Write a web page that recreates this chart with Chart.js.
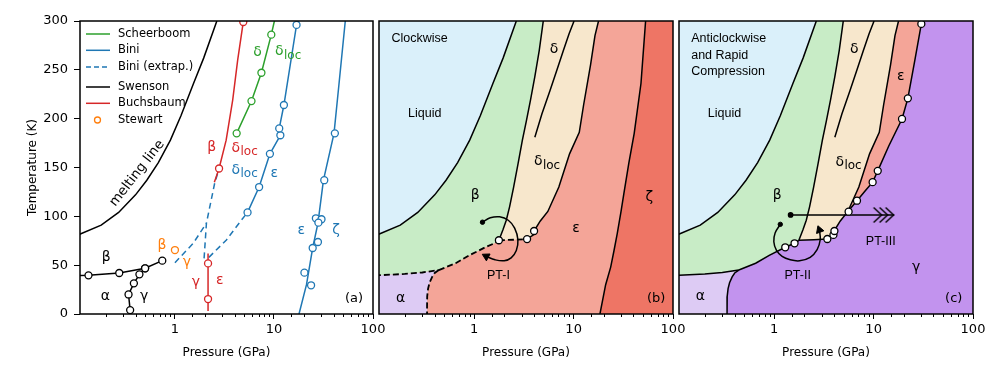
<!DOCTYPE html>
<html>
<head>
<meta charset="utf-8">
<script src="https://cdn.jsdelivr.net/npm/chart.js@4.4.1/dist/chart.umd.min.js"></script>
<style>
  html, body { margin: 0; padding: 0; background: #fff; }
  #wrap { position: relative; width: 1000px; height: 373px; overflow: hidden; }
  canvas { position: absolute; top: 0; }
</style>
</head>
<body>
<div id="wrap">
  <canvas id="pa" width="390" height="373" style="left:0px;width:390px;height:373px"></canvas>
  <canvas id="pb" width="350" height="373" style="left:340px;width:350px;height:373px"></canvas>
  <canvas id="pc" width="360" height="373" style="left:640px;width:360px;height:373px"></canvas>
</div>
<script>
// P in GPa, T in K

// --- panel (a): measured curves ---
const meltP = [0.1, 0.18, 0.27, 0.4, 0.52, 0.68, 0.9, 1.15, 1.54, 1.95, 2.65];
const meltT = [80, 91, 104, 122, 137, 155, 178, 203, 236, 262, 300];

const swABP = [0.1, 0.134, 0.274, 0.5, 0.745];
const swABT = [39.3, 39.6, 42, 46.8, 54.6];
const swAGP = [0.353, 0.34, 0.385, 0.438, 0.5];
const swAGT = [4, 20, 31.4, 40.6, 46.8];

const bbLowP = [2.16, 2.16, 2.16, 2.16];
const bbLowT = [3, 15.3, 51.8, 62];
const bbHighP = [2.5, 2.79, 3.29, 3.83, 4.3, 4.9];
const bbHighT = [135, 149, 178, 219, 260, 299];

const schP = [4.2, 5.93, 7.47, 9.4, 10.1];
const schT = [185, 218, 247, 286, 300];

const biniLocP = [5.41, 7.08, 9.1, 11.6, 11.3, 12.6, 16.9, 17.8];
const biniLocT = [104, 130, 164, 183, 190, 214, 296, 300];
const biniZetaP = [17.9, 21.3, 24.6, 27.8, 31.6, 40.4, 45.3, 52.5];
const biniZetaT = [0, 30, 67.6, 93, 137, 185, 235, 300];
const biniZetaPtsP = [20.3, 23.7, 24.6, 27.8, 26.5, 30.2, 28.1, 32.2, 41.2];
const biniZetaPtsT = [42.3, 29.4, 67.6, 73.7, 98, 97, 93.5, 137, 185];

const extAP = [1.0, 1.53, 2.08];
const extAT = [52.5, 72.4, 93];
const extBP = [1.97, 2.08, 2.52, 2.79];
const extBT = [57, 93, 134, 149];
const extCP = [2.2, 3.31, 4.68, 5.41];
const extCT = [58, 75.8, 96, 104];

const stewP = [1.0];
const stewT = [65.5];

// --- panels (b), (c): phase boundaries ---
const alphaBetaP = [0.1, 0.2, 0.3, 0.44];
const alphaBetaT = [39.5, 41, 42.5, 45];
const alphaLowP = [0.44, 0.4, 0.377, 0.355, 0.343, 0.336, 0.335, 0.335];
const alphaLowT = [45, 42, 38, 32, 26, 18, 8, 0];
const betaLowP = [0.44, 0.65, 0.89, 1.29, 1.6, 1.77];
const betaLowT = [45, 52, 60, 68.3, 72.4, 75.5];
const betaDeltaP = [1.77, 1.94, 2.1, 2.27, 2.49, 2.76, 3.05, 3.35, 3.68, 4.07, 4.51, 4.95];
const betaDeltaT = [75.5, 86, 96, 110, 130, 154, 178, 198, 219, 243, 270, 300];
const deltaLocP = [4.07, 4.8, 5.8, 6.8, 7.9, 9.0, 10.1];
const deltaLocT = [181, 205, 229, 250, 270, 287, 300];
const locBottomP = [1.77, 2.5, 3.4, 3.94, 4.0];
const locBottomT = [75.5, 76, 76.7, 81, 85];
const locEpsP = [4.0, 4.6, 5.5, 7.1, 9.1, 11.4, 12.6, 14.8, 16.4, 17.8];
const locEpsT = [85, 95, 105, 130, 164, 186, 214, 255, 285, 300];
const epsZetaP = [18.4, 21, 23.6, 25.5, 27.5, 30, 32, 36, 40.7, 47.6, 53];
const epsZetaT = [0, 30, 48, 65, 82.5, 105, 123, 155, 185, 236, 300];
const epsGammaP = [5.5, 6.8, 8.2, 9.77, 11, 14.2, 19.3, 22.1, 26, 30.2, 30.5];
const epsGammaT = [105, 116, 126, 135, 146.6, 172, 199.7, 220.8, 260, 297, 300];

const markBP = [1.77, 3.4, 4.0];
const markBT = [75.5, 76.7, 85];
const markCP = [1.29, 1.6, 3.42, 3.94, 4.03, 5.6, 6.8, 9.77, 11, 19.3, 22.1, 30.2];
const markCT = [68.3, 72.4, 76.8, 81, 85, 104.8, 116, 135, 146.6, 199.7, 220.8, 297];

// pressure-temperature paths
const pt1P = [1.21, 1.45, 1.8, 2.2, 2.55, 2.75, 2.65, 2.35, 2.0, 1.62, 1.32];
const pt1T = [94, 98.5, 99.5, 96, 88, 76, 65, 57.5, 54.5, 55.5, 59];
const pt2P = [1.15, 1.02, 0.99, 1.05, 1.2, 1.45, 1.8, 2.3, 2.7, 2.9, 2.85];
const pt2T = [91.8, 83, 74, 65.5, 59, 55.5, 54.5, 58, 66, 76, 86];
const pt3P = [1.46, 16.1];
const pt3T = [101.4, 101.4];
const pt3HeadP = [12.6];

const xTicks = [1, 10, 100];
const yTicks = [0, 50, 100, 150, 200, 250, 300];

// text labels: [text, P, T, colour, font, align, rotation]
const notesA = [
  ['melting line', 0.415, 144, 'k', 'm', 'center', -52],
  ['β', 0.202, 58.4, 'k', 'g'], ['α', 0.198, 18.4, 'k', 'g'], ['γ', 0.488, 18.4, 'k', 'g'],
  ['β', 0.74, 70.7, 'o', 'g'], ['γ', 1.32, 53.2, 'o', 'g'],
  ['γ', 1.63, 32.8, 'r', 'g'], ['ε', 2.83, 34.8, 'r', 'g'],
  ['β', 2.35, 171, 'r', 'g'], ['δ_loc', 5.02, 170, 'r', 'g'],
  ['δ_loc', 5.02, 147.5, 'b', 'g'], ['ε', 10.1, 144.4, 'b', 'g'],
  ['δ', 6.83, 268, 'g', 'g'], ['δ_loc', 13.8, 268.6, 'g', 'g'],
  ['ε', 18.9, 86, 'b', 'g'], ['ζ', 42.4, 86, 'b', 'g'],
  ['(a)', 64.4, 15.4, 'k', 't']
];
const notesB = [
  ['Clockwise', 0.147, 281.6, 'k', 's', 'left'], ['Liquid', 0.317, 204.8, 'k', 's'],
  ['β', 1.02, 121.9, 'k', 'g'], ['δ', 6.36, 271.4, 'k', 'g'], ['δ_loc', 5.37, 156, 'k', 'g'],
  ['ε', 10.6, 88, 'k', 'g'], ['ζ', 57.6, 119.8, 'k', 'g'], ['PT-I', 1.75, 38.9, 'k', 's'],
  ['α', 0.181, 16.4, 'k', 'g'], ['(b)', 67.7, 15.4, 'k', 't']
];
const notesC = [
  ['Anticlockwise', 0.146, 281.6, 'k', 's', 'left'], ['and Rapid', 0.146, 264.2, 'k', 's', 'left'],
  ['Compression', 0.146, 247.8, 'k', 's', 'left'], ['Liquid', 0.316, 204.8, 'k', 's'],
  ['β', 1.07, 121.9, 'k', 'g'], ['δ', 6.4, 271.4, 'k', 'g'], ['ε', 18.8, 243.7, 'k', 'g'],
  ['δ_loc', 5.56, 155.3, 'k', 'g'], ['PT-III', 11.8, 73.7, 'k', 's'], ['γ', 26.8, 48.1, 'k', 'g'],
  ['PT-II', 1.72, 38.9, 'k', 's'], ['α', 0.18, 18.4, 'k', 'g'], ['(c)', 64, 15.4, 'k', 't']
];

const legendA = [
  ['Scheerboom', 'g', 'line'], ['Bini', 'b', 'line'], ['Bini (extrap.)', 'b', 'dash'],
  ['Swenson', 'k', 'line'], ['Buchsbaum', 'r', 'line'], ['Stewart', 'o', 'dot']
];

// --- styling ---
const COL = { k: '#000000', g: '#2ca02c', b: '#1f77b4', r: '#d62728', o: '#ff7f0e' };
const FILL = {
  liquid: '#daf0fa', beta: '#c8ecc6', delta: '#f7e7cc', eps: '#f4a598',
  zeta: '#ee7565', alpha: '#ddcbf4', gamma: '#c293ee'
};
const FONT = {
  g: '14px "DejaVu Sans"', sub: '12px "DejaVu Sans"', t: '13px "DejaVu Sans"',
  m: '13.5px "DejaVu Sans"', s: '12.5px "Liberation Sans"'
};
const R = 3.5;

const xy = (P, T) => P.map((p, i) => ({ x: p, y: T[i] }));
const rev = a => a.slice().reverse();
const isDecade = v => v > 0 && Math.abs(Math.log10(v) - Math.round(Math.log10(v))) < 1e-9;

function area(points, color, order) {
  return { data: points, fill: 'shape', backgroundColor: color, borderColor: 'rgba(0,0,0,0)',
           borderWidth: 0, pointRadius: 0, tension: 0, order };
}
function curve(points, color, extra) {
  return Object.assign({ data: points, borderColor: color, borderWidth: 1.5, pointRadius: 0,
    fill: false, tension: 0, order: 5, pointBackgroundColor: '#fff', pointBorderColor: color,
    pointBorderWidth: 1.3 }, extra || {});
}
function dots(points, color, order) {
  return { data: points, showLine: false, pointRadius: R, pointBorderWidth: 1.3,
           pointBorderColor: color, pointBackgroundColor: '#fff', order: order || 1 };
}
function radii(n, skip) {
  return Array.from({ length: n }, (_, i) => (skip.includes(i) ? 0 : R));
}

// three open chevrons for the PT-III arrow head
function chevrons() {
  const c = document.createElement('canvas');
  c.width = 24; c.height = 18;
  const g = c.getContext('2d');
  g.strokeStyle = '#000'; g.lineWidth = 1.4;
  for (const dx of [2, 8, 14]) {
    g.beginPath(); g.moveTo(dx, 1.5); g.lineTo(dx + 8, 9); g.lineTo(dx, 16.5); g.stroke();
  }
  return c;
}

// --- plugins ---
const framePlugin = {
  id: 'frame',
  afterDraw(chart) {
    const { ctx, chartArea: a, scales: { x } } = chart;
    ctx.save();
    ctx.strokeStyle = '#000';
    ctx.lineWidth = 1;
    ctx.beginPath();
    for (const t of x.ticks) {
      if (isDecade(t.value) || t.value <= x.min) continue;
      const px = Math.round(x.getPixelForValue(t.value)) + 0.5;
      ctx.moveTo(px, a.bottom); ctx.lineTo(px, a.bottom + 3);
    }
    ctx.stroke();
    ctx.lineWidth = 1.5;
    ctx.strokeRect(a.left, a.top, a.right - a.left, a.bottom - a.top);
    ctx.restore();
  }
};

const notesPlugin = {
  id: 'notes',
  afterDatasetsDraw(chart, args, opts) {
    const { ctx, scales: { x, y } } = chart;
    ctx.save();
    ctx.textBaseline = 'middle';
    for (const [txt, p, t, c, f, align, rot] of opts.items) {
      ctx.save();
      ctx.translate(x.getPixelForValue(p), y.getPixelForValue(t));
      if (rot) ctx.rotate(rot * Math.PI / 180);
      ctx.fillStyle = COL[c];
      const [main, sub] = txt.split('_');
      if (sub) {
        ctx.font = FONT[f]; const w1 = ctx.measureText(main).width;
        ctx.font = FONT.sub; const w2 = ctx.measureText(sub).width;
        const x0 = -(w1 + w2) / 2;
        ctx.textAlign = 'left';
        ctx.font = FONT[f]; ctx.fillText(main, x0, 0);
        ctx.font = FONT.sub; ctx.fillText(sub, x0 + w1 + 0.5, 4);
      } else {
        ctx.font = FONT[f];
        ctx.textAlign = align || 'center';
        ctx.fillText(main, 0, 0);
      }
      ctx.restore();
    }
    ctx.restore();
  }
};

const keyPlugin = {
  id: 'key',
  afterDraw(chart, args, opts) {
    if (!opts.items) return;
    const { ctx, chartArea: a } = chart;
    const rows = [13, 29.3, 46, 66, 82.3, 99];
    ctx.save();
    ctx.font = '11.5px "DejaVu Sans"';
    ctx.textBaseline = 'middle';
    ctx.textAlign = 'left';
    opts.items.forEach(([label, c, kind], i) => {
      const yy = a.top + rows[i];
      ctx.strokeStyle = COL[c];
      ctx.lineWidth = 1.5;
      if (kind === 'dot') {
        ctx.fillStyle = '#fff';
        ctx.beginPath(); ctx.arc(a.left + 17.5, yy, R - 0.5, 0, Math.PI * 2);
        ctx.fill(); ctx.lineWidth = 1.3; ctx.stroke();
      } else {
        ctx.setLineDash(kind === 'dash' ? [5, 3] : []);
        ctx.beginPath(); ctx.moveTo(a.left + 6, yy); ctx.lineTo(a.left + 30, yy); ctx.stroke();
        ctx.setLineDash([]);
      }
      ctx.fillStyle = '#000';
      ctx.fillText(label, a.left + 38, yy);
    });
    ctx.restore();
  }
};

function makeChart(id, datasets, notes, padL, padR, showY, key) {
  const tickFont = { family: 'DejaVu Sans', size: 13 };
  const titleFont = { family: 'DejaVu Sans', size: 12 };
  return new Chart(document.getElementById(id), {
    type: 'line',
    data: { datasets },
    plugins: [framePlugin, notesPlugin, keyPlugin],
    options: {
      responsive: false, animation: false, events: [], devicePixelRatio: 1,
      layout: { padding: { left: padL, right: padR, top: 21, bottom: 0 } },
      plugins: { legend: { display: false }, tooltip: { enabled: false },
                 notes: { items: notes }, key: { items: key } },
      scales: {
        x: {
          type: 'logarithmic', min: 0.11, max: 100,
          border: { display: false },
          grid: { drawOnChartArea: false, tickLength: 5, tickWidth: 1,
                  tickColor: c => (c.tick && isDecade(c.tick.value) ? '#000' : 'rgba(0,0,0,0)') },
          ticks: { autoSkip: false, maxRotation: 0, padding: 3, color: '#000', font: tickFont,
                   callback: v => (xTicks.includes(v) ? String(v) : '') },
          title: { display: true, text: 'Pressure (GPa)', color: '#000', font: titleFont,
                   padding: { top: 0, bottom: 13 } },
          afterFit: s => { s.height = 59; }
        },
        y: {
          type: 'linear', min: 0, max: 300, display: showY,
          border: { display: false },
          afterBuildTicks: s => { s.ticks = yTicks.map(v => ({ value: v })); },
          grid: { drawOnChartArea: false, tickLength: 6, tickColor: '#000' },
          ticks: { padding: 6, color: '#000', font: tickFont },
          title: { display: true, text: 'Temperature (K)', color: '#000', font: titleFont,
                   padding: { top: 26, bottom: 0 } },
          afterFit: s => { s.width = showY ? 80 : 0; }
        }
      }
    }
  });
}

// --- shared region polygons ---
const meltPts = xy(meltP, meltT);
const alphaBetaPts = xy(alphaBetaP, alphaBetaT);
const alphaLowPts = xy(alphaLowP, alphaLowT);
const betaLowPts = xy(betaLowP, betaLowT);
const betaDeltaPts = xy(betaDeltaP, betaDeltaT);
const locBottomPts = xy(locBottomP, locBottomT);
const locEpsPts = xy(locEpsP, locEpsT);
const epsGammaPts = xy(epsGammaP, epsGammaT);
const topBD = betaDeltaPts[betaDeltaPts.length - 1].x;
const topLE = locEpsPts[locEpsPts.length - 1].x;

const liquidPoly = [{ x: 0.1, y: meltT[0] }, ...meltPts, { x: meltP[meltP.length - 1], y: 305 }, { x: 0.1, y: 305 }];
const betaPoly = [...alphaBetaPts, ...betaLowPts, ...betaDeltaPts, { x: topBD, y: 305 }, { x: 0.1, y: 305 }];
const deltaPoly = [...locBottomPts, ...locEpsPts, { x: topLE, y: 305 }, { x: topBD, y: 305 }, ...rev(betaDeltaPts)];
const alphaPoly = [{ x: 0.1, y: -5 }, ...alphaBetaPts, ...alphaLowPts, { x: alphaLowP[alphaLowP.length - 1], y: -5 }];
const boxPoly = [{ x: 0.1, y: -5 }, { x: 0.1, y: 305 }, { x: 120, y: 305 }, { x: 120, y: -5 }];
const zetaPoly = [{ x: epsZetaP[0], y: -5 }, ...xy(epsZetaP, epsZetaT),
                  { x: epsZetaP[epsZetaP.length - 1], y: 305 }, { x: 120, y: 305 }, { x: 120, y: -5 }];
const bandEdge = locEpsPts.filter(p => p.x >= epsGammaP[0]);
const epsBandPoly = [...bandEdge, { x: topLE, y: 305 }, { x: epsGammaP[epsGammaP.length - 1], y: 305 }, ...rev(epsGammaPts)];

// --- panel (a) ---
const dashA = { borderDash: [6, 4] };
makeChart('pa', [
  curve(meltPts, COL.k),
  curve(xy(swABP, swABT), COL.k, { pointRadius: radii(swABP.length, [0]) }),
  curve(xy(swAGP, swAGT), COL.k, { pointRadius: R }),
  curve(xy(bbLowP, bbLowT), COL.r, { pointRadius: radii(bbLowP.length, [0, 3]) }),
  curve(xy(bbHighP, bbHighT), COL.r, { pointRadius: radii(bbHighP.length, [0, 2, 3, 4]) }),
  curve(xy(schP, schT), COL.g, { pointRadius: radii(schP.length, [schP.length - 1]) }),
  curve(xy(biniLocP, biniLocT), COL.b, { pointRadius: radii(biniLocP.length, [biniLocP.length - 1]) }),
  curve(xy(biniZetaP, biniZetaT), COL.b),
  dots(xy(biniZetaPtsP, biniZetaPtsT), COL.b),
  curve(xy(extAP, extAT), COL.b, dashA),
  curve(xy(extBP, extBT), COL.b, dashA),
  curve(xy(extCP, extCT), COL.b, dashA),
  dots(xy(stewP, stewT), COL.o)
], notesA, 0, 17, true, legendA);

// --- panel (b) ---
const dashB = { borderDash: [6, 3], borderWidth: 1.8 };
const arrow1 = pt1P.length - 1;
makeChart('pb', [
  area(boxPoly, FILL.eps, 100),
  area(zetaPoly, FILL.zeta, 99),
  area(betaPoly, FILL.beta, 98),
  area(deltaPoly, FILL.delta, 97),
  area(liquidPoly, FILL.liquid, 95),
  area(alphaPoly, FILL.alpha, 94),
  curve(meltPts, COL.k),
  curve(betaDeltaPts, COL.k),
  curve(xy(deltaLocP, deltaLocT), COL.k),
  curve(locEpsPts, COL.k),
  curve(xy(epsZetaP, epsZetaT), COL.k),
  curve(alphaBetaPts, COL.k, dashB),
  curve(alphaLowPts, COL.k, dashB),
  curve(betaLowPts, COL.k, dashB),
  curve(locBottomPts.slice(0, 3), COL.k, dashB),
  curve(locBottomPts.slice(2), COL.k),
  dots(xy(markBP, markBT), COL.k),
  curve(xy(pt1P, pt1T), COL.k, {
    tension: 0.4, order: 2,
    pointRadius: pt1P.map((_, i) => (i === 0 ? 2.2 : i === arrow1 ? 4.5 : 0)),
    pointStyle: pt1P.map((_, i) => (i === arrow1 ? 'triangle' : 'circle')),
    pointRotation: pt1P.map((_, i) => (i === arrow1 ? -62 : 0)),
    pointBackgroundColor: '#000', pointBorderColor: '#000', pointBorderWidth: 1
  })
], notesB, 39, 17, false, null);

// --- panel (c) ---
const arrow2 = pt2P.length - 1;
makeChart('pc', [
  area(boxPoly, FILL.gamma, 100),
  area(betaPoly, FILL.beta, 98),
  area(deltaPoly, FILL.delta, 97),
  area(epsBandPoly, FILL.eps, 96),
  area(liquidPoly, FILL.liquid, 95),
  area(alphaPoly, FILL.alpha, 94),
  curve(meltPts, COL.k),
  curve(betaDeltaPts, COL.k),
  curve(xy(deltaLocP, deltaLocT), COL.k),
  curve(locEpsPts, COL.k),
  curve(epsGammaPts, COL.k),
  curve(alphaBetaPts, COL.k),
  curve(alphaLowPts, COL.k),
  curve(betaLowPts, COL.k),
  curve(locBottomPts, COL.k),
  dots(xy(markCP, markCT), COL.k),
  curve(xy(pt2P, pt2T), COL.k, {
    tension: 0.4, order: 2,
    pointRadius: pt2P.map((_, i) => (i === 0 ? 2.2 : i === arrow2 ? 4.5 : 0)),
    pointStyle: pt2P.map((_, i) => (i === arrow2 ? 'triangle' : 'circle')),
    pointRotation: pt2P.map((_, i) => (i === arrow2 ? -20 : 0)),
    pointBackgroundColor: '#000', pointBorderColor: '#000', pointBorderWidth: 1
  }),
  curve(xy(pt3P, pt3T), COL.k, {
    order: 2, pointRadius: [2.2, 0], pointBackgroundColor: '#000', pointBorderColor: '#000'
  }),
  { data: xy(pt3HeadP, [pt3T[0]]), showLine: false, pointStyle: chevrons(), pointRadius: 9, order: 2 }
], notesC, 39, 27, false, null);
</script>
</body>
</html>
